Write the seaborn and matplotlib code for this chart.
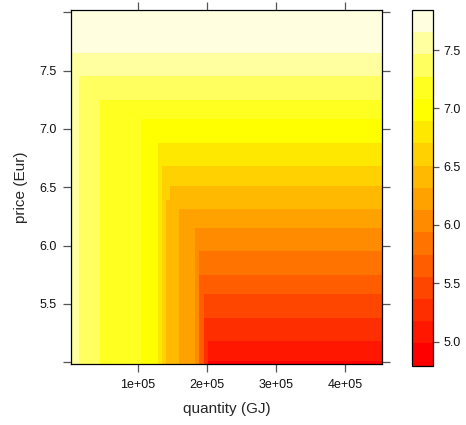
import numpy as np
import matplotlib
matplotlib.use("Agg")
import matplotlib.pyplot as plt
from matplotlib.colors import ListedColormap, BoundaryNorm
from matplotlib.cm import ScalarMappable
import seaborn as sns

# quantity (GJ) cell edges and the level reached along quantity
quantity_edges = [3000, 15000, 45000, 105000, 129000, 135000, 141000, 147000,
                  159000, 183000, 189000, 195000, 201000, 453000]
quantity_level = [7.55, 7.35, 7.15, 7.00, 6.80, 6.60, 6.40, 6.40,
                  6.25, 6.05, 5.70, 5.30, 4.98]

# price (Eur) cell edges and the level reached along price
price_edges = [4.985, 5.015, 5.18, 5.38, 5.585, 5.75, 5.95, 6.155, 6.315,
               6.39, 6.515, 6.68, 6.88, 7.085, 7.25, 7.45, 7.655, 8.02]
price_level = [4.98, 5.10, 5.30, 5.50, 5.70, 5.85, 6.05, 6.25, 6.40,
               6.45, 6.60, 6.80, 7.00, 7.15, 7.35, 7.55, 7.656]

# one odd cell (141000-147000 GJ, 6.39-6.515 Eur)
odd_cell = (9, 6, 6.60)

# R heat.colors(16)
heat16 = ["#FF0000", "#FF1700", "#FF2E00", "#FF4600", "#FF5D00", "#FF7400",
          "#FF8B00", "#FFA200", "#FFB900", "#FFD100", "#FFE800", "#FFFF00",
          "#FFFF20", "#FFFF60", "#FFFF9F", "#FFFFDF"]

z = np.maximum.outer(np.array(price_level), np.array(quantity_level))
z[odd_cell[0], odd_cell[1]] = odd_cell[2]

zmin, zmax = z.min(), z.max()
pad = 0.07 * (zmax - zmin)
breaks = np.linspace(zmin - pad, zmax + pad, len(heat16) + 1)
cmap = ListedColormap(heat16)
norm = BoundaryNorm(breaks, cmap.N)

sns.set_style("ticks")
plt.rcParams["font.family"] = ["Liberation Sans", "DejaVu Sans"]

W, H = 466, 425
fig = plt.figure(figsize=(W / 100, H / 100), dpi=100)
ax = fig.add_axes([71 / W, 1 - 364 / H, (381.7 - 71) / W, (364 - 10) / H])
cax = fig.add_axes([411.7 / W, 1 - 365.7 / H, (433.3 - 411.7) / W, (365.7 - 10) / H])

ax.pcolormesh(quantity_edges, price_edges, z, cmap=cmap, norm=norm, shading="flat")
ax.set_xlim(quantity_edges[0], quantity_edges[-1])
ax.set_ylim(price_edges[0], price_edges[-1])

xt = [100000, 200000, 300000, 400000]
ax.set_xticks(xt)
ax.set_xticklabels(["1e+05", "2e+05", "3e+05", "4e+05"])
yt = [5.0, 5.5, 6.0, 6.5, 7.0, 7.5, 8.0]
ax.set_yticks(yt)
ax.set_yticklabels(["", "5.5", "6.0", "6.5", "7.0", "7.5", ""])
ax.tick_params(axis="both", which="both", direction="out", length=5.5, width=0.9,
               color="#555555", labelsize=9, labelcolor="#111111", pad=5,
               top=True, right=True, labeltop=False, labelright=False)
ax.minorticks_off()
for s in ax.spines.values():
    s.set_visible(True)
    s.set_color("black")
    s.set_linewidth(0.9)

ax.set_xlabel("quantity (GJ)", fontsize=11, labelpad=8)
ax.set_ylabel("price (Eur)", fontsize=11, labelpad=8)

sm = ScalarMappable(norm=norm, cmap=cmap)
cb = fig.colorbar(sm, cax=cax, ticks=[5.0, 5.5, 6.0, 6.5, 7.0, 7.5], spacing="proportional")
cb.ax.minorticks_off()
cb.ax.set_yticklabels(["5.0", "5.5", "6.0", "6.5", "7.0", "7.5"])
cb.ax.tick_params(which="both", direction="out", length=4, width=0.9, color="#555555",
                  labelsize=9, labelcolor="#111111", pad=3)
cb.ax.tick_params(which="minor", length=0)
cb.outline.set_edgecolor("black")
cb.outline.set_linewidth(0.9)

fig.savefig("out.png", dpi=100)
